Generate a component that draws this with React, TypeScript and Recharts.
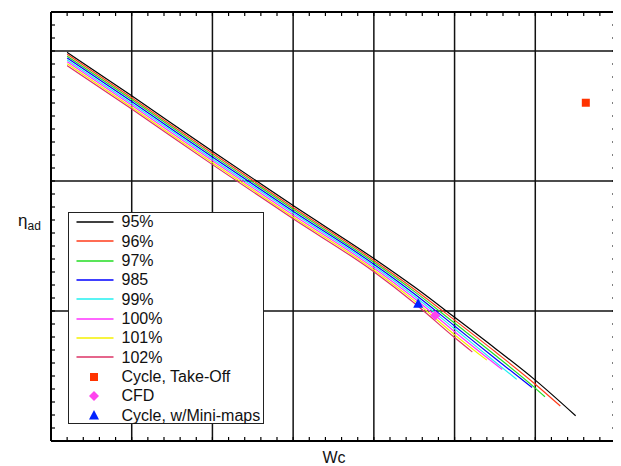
import React from 'react'
import { ComposedChart, Line, Scatter, XAxis, YAxis, CartesianGrid, Legend } from 'recharts'

// speed lines: corrected flow (grid units) vs adiabatic efficiency (grid units)
const wc95 = [0.2, 1, 2, 3, 4, 4.5, 5, 5.5, 6, 6.5]
const eta95 = [2.99, 2.655, 2.228, 1.811, 1.404, 1.186, 0.952, 0.714, 0.468, 0.194]
const wc96 = [0.2, 1, 2, 3, 4, 4.5, 5, 5.5, 6, 6.31]
const eta96 = [2.975, 2.64, 2.213, 1.796, 1.389, 1.168, 0.93, 0.688, 0.437, 0.269]
const wc97 = [0.2, 1, 2, 3, 4, 4.5, 5, 5.5, 6, 6.12]
const eta97 = [2.961, 2.626, 2.199, 1.782, 1.375, 1.151, 0.907, 0.662, 0.407, 0.34]
const wc98 = [0.2, 1, 2, 3, 4, 4.5, 5, 5.5, 5.96]
const eta98 = [2.946, 2.611, 2.184, 1.767, 1.36, 1.133, 0.885, 0.636, 0.412]
const wc99 = [0.2, 1, 2, 3, 4, 4.5, 5, 5.5, 5.77]
const eta99 = [2.932, 2.597, 2.17, 1.753, 1.346, 1.115, 0.863, 0.61, 0.474]
const wc100 = [0.2, 1, 2, 3, 4, 4.5, 5, 5.59]
const eta100 = [2.917, 2.582, 2.155, 1.738, 1.331, 1.098, 0.841, 0.55]
const wc101 = [0.2, 1, 2, 3, 4, 4.5, 5, 5.4]
const eta101 = [2.902, 2.567, 2.14, 1.723, 1.316, 1.08, 0.818, 0.622]
const wc102 = [0.2, 1, 2, 3, 4, 4.5, 5, 5.22]
const eta102 = [2.888, 2.553, 2.126, 1.709, 1.302, 1.062, 0.796, 0.685]

// operating points
const takeOffWc = [6.626]
const takeOffEta = [2.602]
const cfdWc = [4.76]
const cfdEta = [0.965]
const miniMapWc = [4.549]
const miniMapEta = [1.059]

const gridX = [1, 2, 3, 4, 5, 6]
const gridY = [1, 2, 3]
const minorX = Array.from({ length: 36 }, (_, i) => +(i * 0.2).toFixed(1))
const minorY = Array.from({ length: 34 }, (_, i) => +(i * 0.1).toFixed(1))

const toPoints = (xs: number[], ys: number[]) => xs.map((x, i) => ({ x, y: ys[i] }))

const speedLines = [
  { name: '95%', color: '#000000', data: toPoints(wc95, eta95) },
  { name: '96%', color: '#ff3b1a', data: toPoints(wc96, eta96) },
  { name: '97%', color: '#22dd22', data: toPoints(wc97, eta97) },
  { name: '985', color: '#0000ff', data: toPoints(wc98, eta98) },
  { name: '99%', color: '#22f0f0', data: toPoints(wc99, eta99) },
  { name: '100%', color: '#ff33ff', data: toPoints(wc100, eta100) },
  { name: '101%', color: '#f5f000', data: toPoints(wc101, eta101) },
  { name: '102%', color: '#dd3366', data: toPoints(wc102, eta102) },
]

const SQUARE = '#ff3300'
const DIAMOND = '#ff44ee'
const TRIANGLE = '#0022ff'

const font = '"Liberation Sans", Arial, Helvetica, sans-serif'

const squareShape = (p: any) => <rect x={p.cx - 4} y={p.cy - 4} width={8} height={8} fill={SQUARE} />
const diamondShape = (p: any) => (
  <polygon points={`${p.cx},${p.cy - 5} ${p.cx + 5},${p.cy} ${p.cx},${p.cy + 5} ${p.cx - 5},${p.cy}`} fill={DIAMOND} />
)
const triangleShape = (p: any) => (
  <polygon points={`${p.cx},${p.cy - 5} ${p.cx + 5},${p.cy + 4.5} ${p.cx - 5},${p.cy + 4.5}`} fill={TRIANGLE} />
)

// minor ticks point inward on every side
const tickBottom = (p: any) => <line x1={p.x} y1={p.y} x2={p.x} y2={p.y - 4} stroke="#000" strokeWidth={1.2} />
const tickTop = (p: any) => <line x1={p.x} y1={p.y} x2={p.x} y2={p.y + 4} stroke="#000" strokeWidth={1.2} />
const tickLeft = (p: any) => <line x1={p.x} y1={p.y} x2={p.x + 4} y2={p.y} stroke="#000" strokeWidth={1.2} />
const tickRight = (p: any) => <line x1={p.x} y1={p.y} x2={p.x - 4} y2={p.y} stroke="#000" strokeWidth={1.2} />

const markerItems = [
  { name: 'Cycle, Take-Off', kind: 'square' },
  { name: 'CFD', kind: 'diamond' },
  { name: 'Cycle, w/Mini-maps', kind: 'triangle' },
]

function LegendBox() {
  const rowH = 19.35
  return (
    <div
      style={{
        position: 'relative',
        width: 194,
        height: 210,
        border: '1.5px solid #222',
        background: '#fff',
        fontFamily: font,
        fontSize: 16,
        color: '#111',
      }}
    >
      {speedLines.map((s, i) => (
        <div key={s.name} style={{ position: 'absolute', left: 0, top: -1 + i * rowH, height: rowH, width: 190 }}>
          <svg width={40} height={6} style={{ position: 'absolute', left: 6, top: rowH / 2 - 3 }}>
            <line x1={1.5} y1={3} x2={38.5} y2={3} stroke={s.color} strokeWidth={1.6} />
          </svg>
          <span style={{ position: 'absolute', left: 53, whiteSpace: 'nowrap', lineHeight: `${rowH}px`, top: 0 }}>{s.name}</span>
        </div>
      ))}
      {markerItems.map((m, j) => {
        const i = j + speedLines.length
        return (
          <div key={m.name} style={{ position: 'absolute', left: 0, top: -1 + i * rowH, height: rowH, width: 190 }}>
            <svg width={14} height={14} style={{ position: 'absolute', left: 18, top: rowH / 2 - 7 }}>
              {m.kind === 'square' && <rect x={3} y={3} width={8} height={8} fill={SQUARE} />}
              {m.kind === 'diamond' && <polygon points="7,2 12,7 7,12 2,7" fill={DIAMOND} />}
              {m.kind === 'triangle' && <polygon points="7,2 12,11.5 2,11.5" fill={TRIANGLE} />}
            </svg>
            <span style={{ position: 'absolute', left: 53, whiteSpace: 'nowrap', lineHeight: `${rowH}px`, top: 0 }}>{m.name}</span>
          </div>
        )
      })}
    </div>
  )
}

export default function App() {
  return (
    <div style={{ position: 'relative', width: 613, height: 458, fontFamily: font }}>
      <ComposedChart width={613} height={458} margin={{ top: 3, right: 4, left: 42, bottom: 24 }}>
        <CartesianGrid
          xAxisId="b"
          yAxisId="l"
          verticalValues={gridX}
          horizontalValues={gridY}
          stroke="#111"
          strokeWidth={1.5}
        />
        <XAxis xAxisId="b" type="number" dataKey="x" domain={[0, 7]} ticks={minorX} interval={0}
          height={1} tickSize={0} tickMargin={0} tickLine={false} tick={tickBottom}
          axisLine={{ stroke: '#000', strokeWidth: 2 }} allowDataOverflow />
        <XAxis xAxisId="t" orientation="top" type="number" dataKey="x" domain={[0, 7]} ticks={minorX} interval={0}
          height={1} tickSize={0} tickMargin={0} tickLine={false} tick={tickTop}
          axisLine={{ stroke: '#000', strokeWidth: 2 }} allowDataOverflow />
        <YAxis yAxisId="l" type="number" dataKey="y" domain={[0, 3.3]} ticks={minorY} interval={0}
          width={1} tickSize={0} tickMargin={0} tickLine={false} tick={tickLeft}
          axisLine={{ stroke: '#000', strokeWidth: 2 }} allowDataOverflow />
        <YAxis yAxisId="r" orientation="right" type="number" dataKey="y" domain={[0, 3.3]} ticks={minorY} interval={0}
          width={1} tickSize={0} tickMargin={0} tickLine={false} tick={tickRight}
          axisLine={{ stroke: '#000', strokeWidth: 2 }} allowDataOverflow />
        {speedLines.map((s) => (
          <Line
            key={s.name}
            xAxisId="b"
            yAxisId="l"
            data={s.data}
            dataKey="y"
            name={s.name}
            type="monotone"
            stroke={s.color}
            strokeWidth={1.2}
            dot={false}
            activeDot={false}
            isAnimationActive={false}
          />
        ))}
        <Scatter xAxisId="b" yAxisId="l" name="Cycle, Take-Off" data={toPoints(takeOffWc, takeOffEta)} dataKey="y" shape={squareShape} isAnimationActive={false} />
        <Scatter xAxisId="b" yAxisId="l" name="Cycle, w/Mini-maps" data={toPoints(miniMapWc, miniMapEta)} dataKey="y" shape={triangleShape} isAnimationActive={false} />
        <Scatter xAxisId="b" yAxisId="l" name="CFD" data={toPoints(cfdWc, cfdEta)} dataKey="y" shape={diamondShape} isAnimationActive={false} />
        <Legend
          layout="vertical"
          align="center"
          verticalAlign="middle"
          content={() => <LegendBox />}
          wrapperStyle={{ position: 'absolute', left: 59.5, top: 204.3, width: 197, height: 213 }}
        />
      </ComposedChart>
      <div style={{ position: 'absolute', left: 326, top: 449.5, transform: 'translate(-50%, -50%)', fontSize: 16, color: '#111', whiteSpace: 'nowrap' }}>
        Wc
      </div>
      <div style={{ position: 'absolute', left: 10, top: 203, fontSize: 17, color: '#111', whiteSpace: 'nowrap', lineHeight: '20px' }}>
        η<sub style={{ fontSize: 12, verticalAlign: '-4px' }}>ad</sub>
      </div>
    </div>
  )
}
